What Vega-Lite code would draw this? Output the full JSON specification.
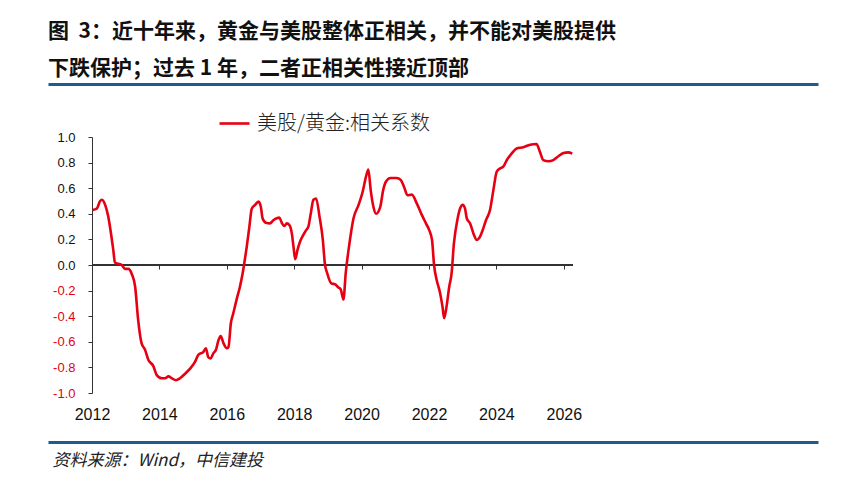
{
  "$schema": "https://vega.github.io/schema/vega-lite/v6.json",
  "width": 770,
  "height": 256,
  "autosize": "none",
  "padding": {"left": 48, "top": 137, "right": 41, "bottom": 90},
  "background": "white",
  "config": {"view": {"stroke": null}, "axis": {"grid": false}},
  "title": {
    "text": ["图\u00a0\u00a03：近十年来，黄金与美股整体正相关，并不能对美股提供", "下跌保护；过去 1 年，二者正相关性接近顶部"],
    "anchor": "start",
    "frame": "group",
    "font": "Noto Sans CJK SC",
    "fontSize": 21,
    "fontWeight": "bold",
    "color": "#111111",
    "lineHeight": 37,
    "offset": 5
  },
  "data": {"values": [
    {"year": 2012.02, "v": 0.43}, {"year": 2012.14, "v": 0.44}, {"year": 2012.24, "v": 0.50}, {"year": 2012.29, "v": 0.51},
    {"year": 2012.39, "v": 0.47}, {"year": 2012.48, "v": 0.38}, {"year": 2012.55, "v": 0.27}, {"year": 2012.63, "v": 0.12},
    {"year": 2012.68, "v": 0.02}, {"year": 2012.78, "v": 0.01}, {"year": 2012.88, "v": 0.00}, {"year": 2012.98, "v": -0.03},
    {"year": 2013.08, "v": -0.03}, {"year": 2013.18, "v": -0.07}, {"year": 2013.28, "v": -0.17}, {"year": 2013.37, "v": -0.43},
    {"year": 2013.47, "v": -0.61}, {"year": 2013.57, "v": -0.66}, {"year": 2013.67, "v": -0.74}, {"year": 2013.82, "v": -0.79},
    {"year": 2013.92, "v": -0.86}, {"year": 2014.07, "v": -0.885}, {"year": 2014.17, "v": -0.885}, {"year": 2014.27, "v": -0.87},
    {"year": 2014.37, "v": -0.885}, {"year": 2014.49, "v": -0.90}, {"year": 2014.61, "v": -0.885}, {"year": 2014.76, "v": -0.85},
    {"year": 2014.91, "v": -0.81}, {"year": 2015.06, "v": -0.755}, {"year": 2015.16, "v": -0.70}, {"year": 2015.30, "v": -0.68},
    {"year": 2015.38, "v": -0.65}, {"year": 2015.45, "v": -0.72}, {"year": 2015.52, "v": -0.73}, {"year": 2015.60, "v": -0.69},
    {"year": 2015.68, "v": -0.66}, {"year": 2015.75, "v": -0.59}, {"year": 2015.82, "v": -0.555}, {"year": 2015.90, "v": -0.61},
    {"year": 2016.00, "v": -0.65}, {"year": 2016.05, "v": -0.64}, {"year": 2016.12, "v": -0.455}, {"year": 2016.19, "v": -0.38},
    {"year": 2016.29, "v": -0.27}, {"year": 2016.39, "v": -0.17}, {"year": 2016.47, "v": -0.065}, {"year": 2016.51, "v": 0.0},
    {"year": 2016.59, "v": 0.14}, {"year": 2016.67, "v": 0.30}, {"year": 2016.74, "v": 0.44}, {"year": 2016.84, "v": 0.47},
    {"year": 2016.94, "v": 0.495}, {"year": 2017.01, "v": 0.455}, {"year": 2017.06, "v": 0.365}, {"year": 2017.16, "v": 0.33},
    {"year": 2017.28, "v": 0.325}, {"year": 2017.38, "v": 0.35}, {"year": 2017.48, "v": 0.365}, {"year": 2017.56, "v": 0.37},
    {"year": 2017.63, "v": 0.33}, {"year": 2017.71, "v": 0.305}, {"year": 2017.78, "v": 0.325}, {"year": 2017.86, "v": 0.31},
    {"year": 2017.93, "v": 0.245}, {"year": 2017.98, "v": 0.14}, {"year": 2018.03, "v": 0.045}, {"year": 2018.10, "v": 0.12},
    {"year": 2018.17, "v": 0.18}, {"year": 2018.27, "v": 0.235}, {"year": 2018.35, "v": 0.27}, {"year": 2018.42, "v": 0.30},
    {"year": 2018.49, "v": 0.40}, {"year": 2018.57, "v": 0.51}, {"year": 2018.65, "v": 0.52}, {"year": 2018.75, "v": 0.38},
    {"year": 2018.85, "v": 0.195}, {"year": 2018.91, "v": 0.01}, {"year": 2018.98, "v": -0.065}, {"year": 2019.11, "v": -0.145},
    {"year": 2019.21, "v": -0.15}, {"year": 2019.31, "v": -0.175}, {"year": 2019.38, "v": -0.19}, {"year": 2019.46, "v": -0.27},
    {"year": 2019.53, "v": -0.06}, {"year": 2019.64, "v": 0.17}, {"year": 2019.76, "v": 0.365}, {"year": 2019.91, "v": 0.47},
    {"year": 2020.03, "v": 0.57}, {"year": 2020.13, "v": 0.69}, {"year": 2020.20, "v": 0.745}, {"year": 2020.27, "v": 0.585},
    {"year": 2020.35, "v": 0.455}, {"year": 2020.43, "v": 0.40}, {"year": 2020.55, "v": 0.45}, {"year": 2020.64, "v": 0.585},
    {"year": 2020.72, "v": 0.65}, {"year": 2020.86, "v": 0.68}, {"year": 2021.04, "v": 0.68}, {"year": 2021.16, "v": 0.665},
    {"year": 2021.26, "v": 0.61}, {"year": 2021.36, "v": 0.545}, {"year": 2021.49, "v": 0.55}, {"year": 2021.64, "v": 0.48},
    {"year": 2021.79, "v": 0.39}, {"year": 2021.91, "v": 0.325}, {"year": 2022.01, "v": 0.27}, {"year": 2022.09, "v": 0.195},
    {"year": 2022.15, "v": 0.0}, {"year": 2022.23, "v": -0.12}, {"year": 2022.33, "v": -0.22}, {"year": 2022.40, "v": -0.325},
    {"year": 2022.45, "v": -0.415}, {"year": 2022.52, "v": -0.325}, {"year": 2022.60, "v": -0.17}, {"year": 2022.67, "v": -0.065},
    {"year": 2022.74, "v": 0.17}, {"year": 2022.84, "v": 0.35}, {"year": 2022.92, "v": 0.44}, {"year": 2023.00, "v": 0.47},
    {"year": 2023.07, "v": 0.44}, {"year": 2023.12, "v": 0.365}, {"year": 2023.22, "v": 0.325}, {"year": 2023.32, "v": 0.245},
    {"year": 2023.42, "v": 0.195}, {"year": 2023.49, "v": 0.21}, {"year": 2023.59, "v": 0.27}, {"year": 2023.69, "v": 0.35},
    {"year": 2023.81, "v": 0.43}, {"year": 2023.91, "v": 0.585}, {"year": 2024.01, "v": 0.73}, {"year": 2024.11, "v": 0.755},
    {"year": 2024.21, "v": 0.77}, {"year": 2024.31, "v": 0.82}, {"year": 2024.45, "v": 0.87}, {"year": 2024.60, "v": 0.91},
    {"year": 2024.80, "v": 0.92}, {"year": 2025.00, "v": 0.94}, {"year": 2025.19, "v": 0.945}, {"year": 2025.29, "v": 0.885},
    {"year": 2025.39, "v": 0.82}, {"year": 2025.54, "v": 0.81}, {"year": 2025.69, "v": 0.82}, {"year": 2025.84, "v": 0.85},
    {"year": 2025.99, "v": 0.875}, {"year": 2026.13, "v": 0.88}, {"year": 2026.25, "v": 0.87}
  ]},
  "resolve": {"axis": {"x": "independent"}},
  "layer": [
    {
      "mark": {"type": "rule", "color": "#333333", "strokeWidth": 1},
      "encoding": {
        "x": {"datum": 2012, "type": "quantitative",
              "scale": {"domain": [2010.694, 2033.543], "nice": false, "zero": false},
              "axis": {"orient": "top", "offset": 53, "domainColor": "#1D5C8C", "domainWidth": 3, "ticks": false, "labels": false, "title": null}},
        "x2": {"datum": 2026.25},
        "y": {"datum": 0, "type": "quantitative", "scale": {"domain": [-1, 1], "nice": false, "zero": false},
              "axis": {"orient": "left", "offset": -44, "values": [-1, -0.8, -0.6, -0.4, -0.2, 0, 0.2, 0.4, 0.6, 0.8, 1],
                       "labelExpr": "replace(format(datum.value, '.1f'), '\u2212', '-')",
                       "labelOverlap": false, "labelBound": false,
                       "domainColor": "#333333", "tickColor": "#333333", "tickSize": 4, "labelPadding": 13,
                       "labelFont": "Liberation Sans", "labelFontSize": 13,
                       "labelColor": {"condition": {"test": "datum.value < 0", "value": "#E60012"}, "value": "#111111"},
                       "title": null}}
      }
    },
    {
      "mark": {"type": "line", "strokeWidth": 2.6, "interpolate": "monotone"},
      "encoding": {
        "x": {"field": "year", "type": "quantitative",
              "scale": {"domain": [2010.694, 2033.543], "nice": false, "zero": false},
              "axis": {"orient": "bottom", "offset": -128, "domain": false, "values": [2012, 2014, 2016, 2018, 2020, 2022, 2024, 2026],
                       "format": "d", "ticks": true, "tickSize": 4, "tickColor": "#333333", "labelPadding": 145, "labelBaseline": "middle",
                       "labelFont": "Liberation Sans Narrow, Liberation Sans", "labelFontSize": 16, "labelColor": "#111111", "title": null}},
        "y": {"field": "v", "type": "quantitative",
              "scale": {"domain": [-1, 1], "nice": false, "zero": false},
              "axis": {"orient": "left", "offset": -44, "values": [-1, -0.8, -0.6, -0.4, -0.2, 0, 0.2, 0.4, 0.6, 0.8, 1],
                       "labelExpr": "replace(format(datum.value, '.1f'), '\u2212', '-')",
                       "labelOverlap": false, "labelBound": false,
                       "domainColor": "#333333", "tickColor": "#333333", "tickSize": 4, "labelPadding": 13,
                       "labelFont": "Liberation Sans", "labelFontSize": 13,
                       "labelColor": {"condition": {"test": "datum.value < 0", "value": "#E60012"}, "value": "#111111"},
                       "title": null}},
        "color": {"datum": "美股/黄金:相关系数", "type": "nominal",
                  "scale": {"range": ["#E60012"]},
                  "legend": {"orient": "none", "legendX": 170, "legendY": -30, "title": null, "padding": 0,
                             "symbolType": "stroke", "symbolSize": 900, "symbolStrokeWidth": 2.6, "labelLimit": 400,
                             "labelFont": "Noto Sans CJK SC", "labelFontSize": 20, "labelFontWeight": 300, "labelColor": "#222222", "labelOffset": 6}}
      }
    },
    {
      "mark": {"type": "line", "opacity": 0},
      "encoding": {
        "x": {"field": "year", "type": "quantitative",
              "scale": {"domain": [2010.694, 2033.543], "nice": false, "zero": false},
              "axis": {"orient": "bottom", "offset": 49, "domainColor": "#1D5C8C", "domainWidth": 3, "ticks": false, "labels": false,
                       "title": "资料来源：Wind，中信建投", "titleX": 4, "titleY": 18, "titleAnchor": "start", "titleAlign": "left", "titleBaseline": "middle",
                       "titleFont": "Noto Sans CJK SC", "titleFontSize": 17, "titleFontWeight": "normal", "titleFontStyle": "italic", "titleColor": "#222222"}},
        "y": {"field": "v", "type": "quantitative",
              "scale": {"domain": [-1, 1], "nice": false, "zero": false},
              "axis": {"orient": "left", "offset": -44, "values": [-1, -0.8, -0.6, -0.4, -0.2, 0, 0.2, 0.4, 0.6, 0.8, 1],
                       "labelExpr": "replace(format(datum.value, '.1f'), '\u2212', '-')",
                       "labelOverlap": false, "labelBound": false,
                       "domainColor": "#333333", "tickColor": "#333333", "tickSize": 4, "labelPadding": 13,
                       "labelFont": "Liberation Sans", "labelFontSize": 13,
                       "labelColor": {"condition": {"test": "datum.value < 0", "value": "#E60012"}, "value": "#111111"},
                       "title": null}}
      }
    }
  ]
}
